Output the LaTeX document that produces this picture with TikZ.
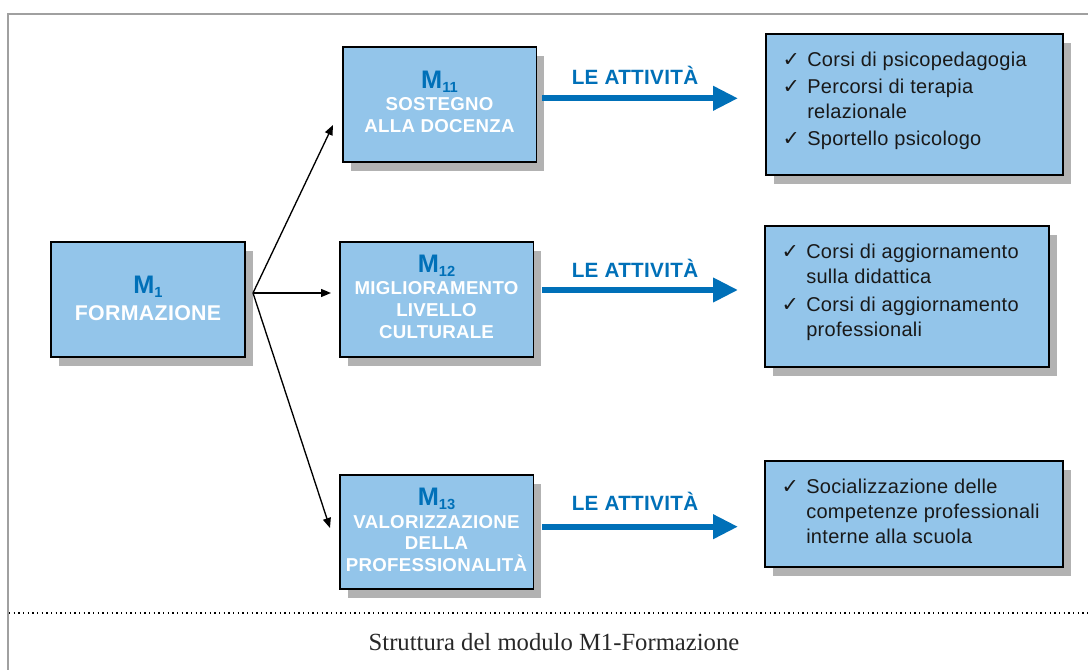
\documentclass[tikz,border=0pt]{standalone}
\usepackage{fontspec}
\setmainfont{Liberation Sans}
\newfontfamily\capfont{Liberation Serif}
\newfontfamily\symfont{DejaVu Sans}
\usetikzlibrary{arrows.meta,shadows}
\definecolor{boxblue}{RGB}{147,197,234}
\definecolor{mblue}{RGB}{0,112,184}
\definecolor{shadowgray}{RGB}{178,178,178}
\definecolor{framegray}{RGB}{160,160,160}
\definecolor{captext}{RGB}{40,40,40}
\definecolor{listtext}{RGB}{25,25,25}
\newcommand{\chk}{{\symfont\fontsize{15.5}{15.5}\selectfont ✓}}
\newcommand{\mtitle}[1]{{\color{mblue}\fontsize{19}{19}\selectfont\addfontfeature{LetterSpace=0}M\raisebox{-3pt}{\fontsize{11}{11}\selectfont #1}}}
\tikzset{
  boxbase/.style={draw=black, line width=1pt, fill=boxblue, rectangle, inner sep=0pt,
    drop shadow={shadow xshift=6pt, shadow yshift=-7pt, fill=shadowgray, opacity=1}},
  mbox/.style={boxbase, minimum width=145pt, minimum height=86.25pt, align=center, text=white,
    font=\fontsize{14}{16.3}\selectfont\bfseries\addfontfeature{LetterSpace=1.5}},
  mtext/.style={inner sep=0pt, align=center, text=white,
    font=\fontsize{14}{16.3}\selectfont\bfseries\addfontfeature{LetterSpace=1.5}},
  lbox/.style={boxbase},
  listtxt/.style={anchor=north west, inner sep=0pt, text=listtext, align=left,
    font=\fontsize{15}{18.75}\selectfont\addfontfeature{LetterSpace=1.5}},
  lbl/.style={anchor=base, inner sep=0pt, text=mblue,
    font=\fontsize{15.5}{17}\selectfont\bfseries\addfontfeature{LetterSpace=1.5}},
  thinarrow/.style={line width=1pt, -{Triangle[length=7.5pt,width=6pt]}},
  bigarrow/.style={draw=mblue, line width=4.5pt, -{Triangle[length=18.75pt,width=17.5pt]}}
}
\begin{document}
\begin{tikzpicture}[x=0.75pt,y=-0.75pt]
\useasboundingbox (0,0) rectangle (1088,670);
\fill[white] (0,0) rectangle (1088,670);
% frame
\draw[framegray, line width=1pt] (8,670) -- (8,14) -- (1088,14);
\draw[black, line width=1.1pt, dash pattern=on 1.1pt off 2.4pt] (9,613) -- (1088,613);

% boxes
\node[lbox, minimum width=145.5pt, minimum height=86.25pt] (m1) at (148,299.5) {};
\node[lbox, minimum width=145pt, minimum height=86.25pt] (m11) at (439.5,104.5) {};
\node[lbox, minimum width=145pt, minimum height=86.25pt] (m12) at (436.5,299.5) {};
\node[lbox, minimum width=145pt, minimum height=85.5pt] (m13) at (436.5,532) {};

\node[mtext, font=\fontsize{16}{17}\selectfont\bfseries\addfontfeature{LetterSpace=1.5}] (m1t) at ([yshift=1pt]m1.center) {\mtitle{1}\\[3pt] FORMAZIONE};
\node[mtext] (m11t) at ([yshift=2pt]m11.center) {\mtitle{11}\\[0.5pt] SOSTEGNO\\ ALLA DOCENZA};
\node[mtext] (m12t) at ([yshift=2pt]m12.center) {\mtitle{12}\\[0.5pt] MIGLIORAMENTO\\ LIVELLO\\ CULTURALE};
\node[mtext] (m13t) at ([yshift=1.5pt]m13.center) {\mtitle{13}\\[0.5pt] VALORIZZAZIONE\\ DELLA\\ PROFESSIONALITÀ};

\node[lbox, minimum width=222.75pt, minimum height=105.75pt] (r1) at (914.5,104.5) {};
\node[lbox, minimum width=213pt, minimum height=105.75pt] (r2) at (907,296.5) {};
\node[lbox, minimum width=223.5pt, minimum height=79.5pt] (r3) at (914,514) {};

\node[listtxt] (l1) at ([xshift=12.75pt,yshift=-11.5pt]r1.north west)
 {\begin{tabular}{@{}p{18.5pt}@{}l@{}}
  \chk & Corsi di psicopedagogia\\[1.5pt]
  \chk & Percorsi di terapia\\
       & relazionale\\[1.5pt]
  \chk & Sportello psicologo
  \end{tabular}};
\node[listtxt] (l2) at ([xshift=12.75pt,yshift=-11.5pt]r2.north west)
 {\begin{tabular}{@{}p{18.5pt}@{}l@{}}
  \chk & Corsi di aggiornamento\\
       & sulla didattica\\[2pt]
  \chk & Corsi di aggiornamento\\
       & professionali
  \end{tabular}};
\node[listtxt] (l3) at ([xshift=12.75pt,yshift=-11.5pt]r3.north west)
 {\begin{tabular}{@{}p{18.5pt}@{}l@{}}
  \chk & Socializzazione delle\\
       & competenze professionali\\
       & interne alla scuola
  \end{tabular}};

% labels
\node[lbl] (a1) at (635,85) {LE ATTIVITÀ};
\node[lbl] (a2) at (635,277) {LE ATTIVITÀ};
\node[lbl] (a3) at (635,510) {LE ATTIVITÀ};

% blue arrows
\coordinate (b1s) at (542,98.3);  \coordinate (b1e) at (738,98.3);
\coordinate (b2s) at (542,290);   \coordinate (b2e) at (738,290);
\coordinate (b3s) at (542,526.7); \coordinate (b3e) at (738,526.7);
\draw[bigarrow] (b1s) -- (b1e);
\draw[bigarrow] (b2s) -- (b2e);
\draw[bigarrow] (b3s) -- (b3e);

% thin arrows
\coordinate (o) at (253,293);
\coordinate (t1) at (333,125);
\coordinate (t2) at (331,293);
\coordinate (t3) at (330,528);
\draw[thinarrow] (o) -- (t1);
\draw[thinarrow] (o) -- (t2);
\draw[thinarrow] (o) -- (t3);

% caption
\node[text=captext, font=\capfont\fontsize{18.5}{20}\selectfont] (cap) at (554,642) {Struttura del modulo M1-Formazione};
\end{tikzpicture}
\end{document}
